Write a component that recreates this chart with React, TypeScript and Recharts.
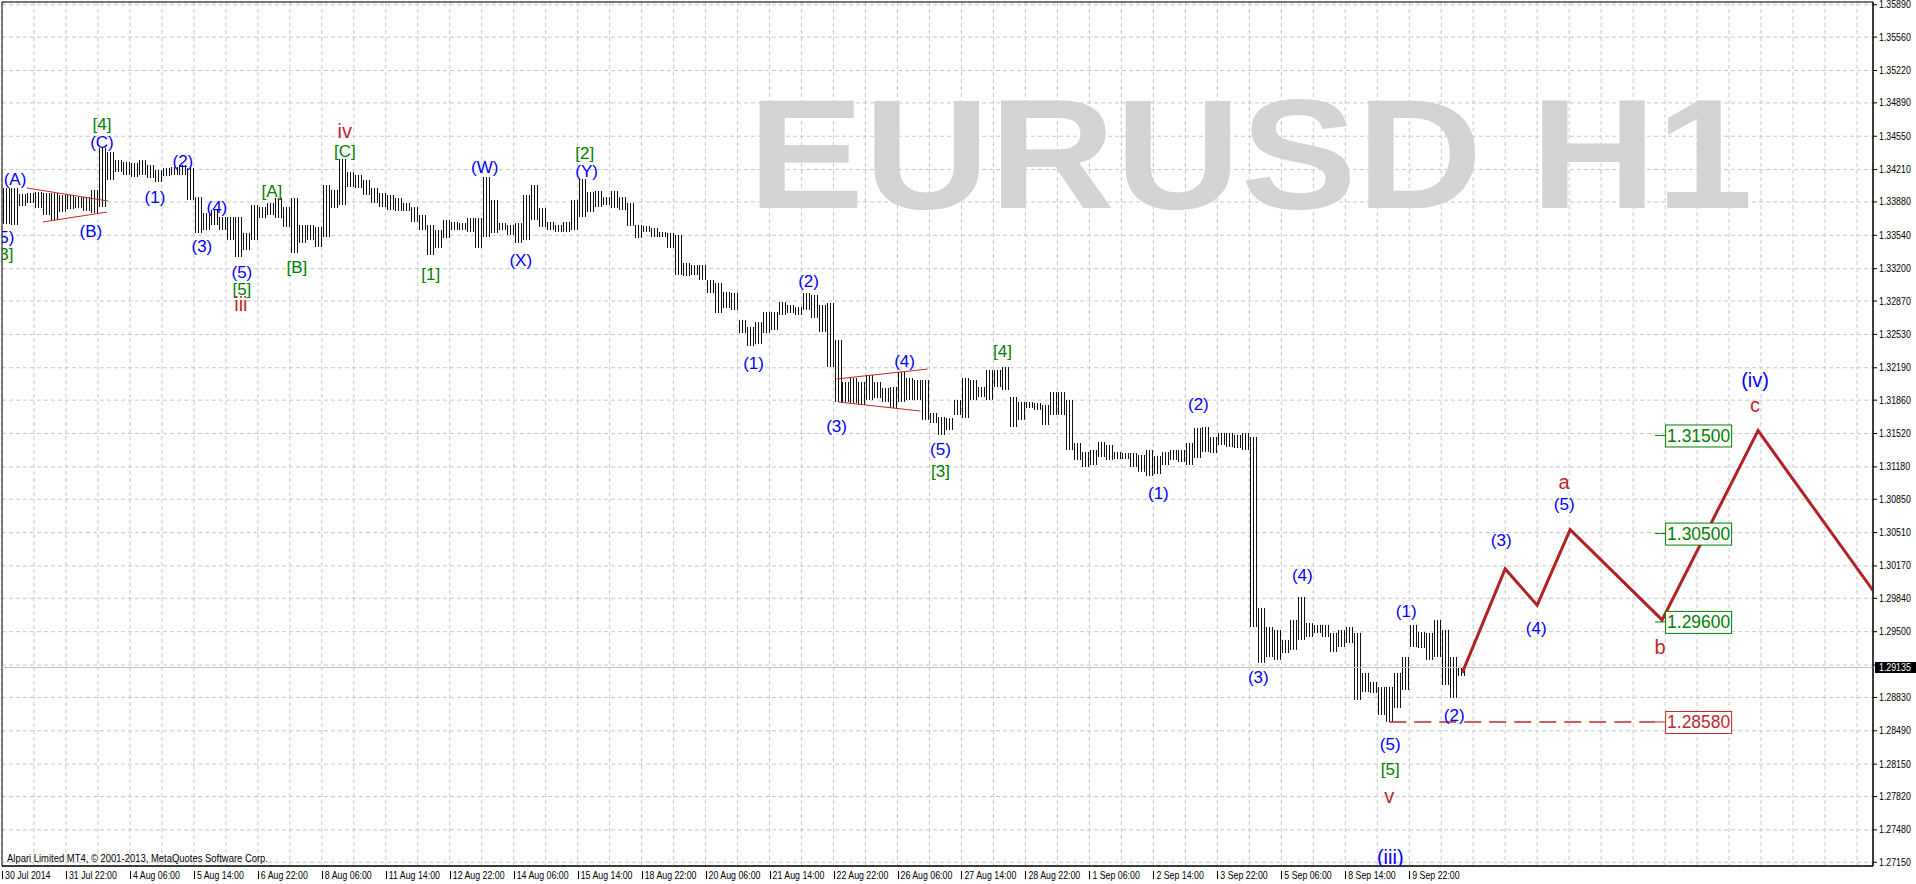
import React from "react";
import {
  ComposedChart,
  Bar,
  Line,
  Scatter,
  XAxis,
  YAxis,
  CartesianGrid,
  ReferenceLine,
  ReferenceArea,
} from "recharts";

const W = 1916;
const H = 884;

// time axis labels, one every 32 H1 bars
const timeLabels = [
  "30 Jul 2014", "31 Jul 22:00", "4 Aug 06:00", "5 Aug 14:00", "6 Aug 22:00",
  "8 Aug 06:00", "11 Aug 14:00", "12 Aug 22:00", "14 Aug 06:00", "15 Aug 14:00",
  "18 Aug 22:00", "20 Aug 06:00", "21 Aug 14:00", "22 Aug 22:00", "26 Aug 06:00",
  "27 Aug 14:00", "28 Aug 22:00", "1 Sep 06:00", "2 Sep 14:00", "3 Sep 22:00",
  "5 Sep 06:00", "8 Sep 14:00", "9 Sep 22:00",
];

const priceTicks = [
  1.3589, 1.3556, 1.3522, 1.3489, 1.3455, 1.3421, 1.3388, 1.3354, 1.332,
  1.3287, 1.3253, 1.3219, 1.3186, 1.3152, 1.3118, 1.3085, 1.3051, 1.3017,
  1.2984, 1.295, 1.2916, 1.2883, 1.2849, 1.2815, 1.2782, 1.2748, 1.2715,
];

const currentPrice = 1.29135;

// price bars, each entry = 4 H1 bars (high / low)
const highs = [
  1.34022, 1.34022, 1.33961, 1.33971, 1.33981, 1.33971, 1.33971, 1.33951, 1.33951, 1.3393,
  1.3393, 1.34002, 1.3443, 1.34389, 1.34307, 1.34287, 1.34277, 1.34307, 1.34257, 1.34206,
  1.34226, 1.34236, 1.34257, 1.34226, 1.3393, 1.33767, 1.33798, 1.33727, 1.33727, 1.33727,
  1.33564, 1.33849, 1.33828, 1.33869, 1.3392, 1.33828, 1.3392, 1.33645, 1.33645, 1.33625,
  1.34053, 1.34002, 1.34318, 1.34185, 1.34155, 1.34104, 1.34022, 1.33971, 1.33951, 1.3392,
  1.33869, 1.33828, 1.33747, 1.33645, 1.33594, 1.33696, 1.33676, 1.33665, 1.33716, 1.33716,
  1.34134, 1.339, 1.33665, 1.33645, 1.33665, 1.33951, 1.34053, 1.33818, 1.33676, 1.33645,
  1.33676, 1.339, 1.34114, 1.33981, 1.33992, 1.3393, 1.33992, 1.3393, 1.33869, 1.33645,
  1.33635, 1.33614, 1.33574, 1.33564, 1.33543, 1.33258, 1.33237, 1.33237, 1.33085, 1.33054,
  1.32962, 1.32952, 1.32677, 1.32606, 1.32656, 1.32758, 1.32758, 1.3286, 1.3283, 1.32809,
  1.32952, 1.32932, 1.3283, 1.3285, 1.32473, 1.32045, 1.32086, 1.32045, 1.32116, 1.32045,
  1.31984, 1.31994, 1.32147, 1.32086, 1.32065, 1.32065, 1.31729, 1.31688, 1.31678, 1.31862,
  1.32086, 1.32065, 1.31994, 1.32167, 1.32167, 1.32198, 1.31892, 1.31841, 1.31841, 1.31831,
  1.31811, 1.31943, 1.31943, 1.31862, 1.31423, 1.31332, 1.31352, 1.31434, 1.31403, 1.31332,
  1.31321, 1.31321, 1.31301, 1.31352, 1.31291, 1.31332, 1.31352, 1.31352, 1.31423, 1.31576,
  1.31586, 1.31485, 1.31525, 1.31525, 1.31505, 1.31525, 1.31485, 1.29742, 1.29548, 1.29518,
  1.29416, 1.2962, 1.29854, 1.29589, 1.29569, 1.29569, 1.29487, 1.29518, 1.29548, 1.29487,
  1.2908, 1.28988, 1.28937, 1.28937, 1.2908, 1.29242, 1.29569, 1.29497, 1.29487, 1.2962,
  1.29518, 1.29242, 1.29141,
];

const lows = [
  1.33655, 1.33645, 1.33839, 1.33869, 1.33818, 1.33747, 1.33696, 1.33778, 1.33808, 1.33818,
  1.33788, 1.33767, 1.33828, 1.34104, 1.34185, 1.34155, 1.34134, 1.34155, 1.34124, 1.34083,
  1.34144, 1.34155, 1.34155, 1.339, 1.33564, 1.33594, 1.33645, 1.33594, 1.33492, 1.33319,
  1.3339, 1.33492, 1.33716, 1.33747, 1.33716, 1.33625, 1.3336, 1.33462, 1.33492, 1.33421,
  1.33523, 1.33818, 1.33849, 1.34032, 1.34022, 1.33951, 1.33869, 1.33828, 1.33798, 1.33788,
  1.33788, 1.33676, 1.33594, 1.33339, 1.33411, 1.33513, 1.33594, 1.33594, 1.33574, 1.33411,
  1.33523, 1.33564, 1.33594, 1.33543, 1.33462, 1.33492, 1.33696, 1.33625, 1.33594, 1.33574,
  1.33574, 1.33594, 1.33727, 1.33778, 1.33828, 1.33849, 1.33818, 1.33798, 1.33635, 1.33513,
  1.33574, 1.33523, 1.33523, 1.33411, 1.33135, 1.33125, 1.33135, 1.33085, 1.32952, 1.32748,
  1.32799, 1.32779, 1.32544, 1.32412, 1.32432, 1.32544, 1.32575, 1.32728, 1.32748, 1.32728,
  1.32779, 1.32697, 1.32555, 1.32198, 1.31841, 1.31841, 1.31831, 1.31811, 1.31862, 1.31882,
  1.31841, 1.3178, 1.31841, 1.31862, 1.31862, 1.31658, 1.31627, 1.31505, 1.31556, 1.31709,
  1.31678, 1.31862, 1.31892, 1.31862, 1.31994, 1.31963, 1.31586, 1.31658, 1.3178, 1.3176,
  1.31607, 1.31709, 1.31709, 1.31352, 1.3125, 1.31179, 1.31199, 1.31281, 1.3125, 1.3126,
  1.3126, 1.31179, 1.31128, 1.31087, 1.31107, 1.31199, 1.3125, 1.3123, 1.31199, 1.3127,
  1.31332, 1.31321, 1.31403, 1.31383, 1.31372, 1.31352, 1.29548, 1.29182, 1.29242, 1.29212,
  1.29283, 1.29314, 1.29416, 1.29446, 1.29487, 1.29446, 1.29293, 1.29344, 1.29385, 1.28804,
  1.28886, 1.28876, 1.28652, 1.2858, 1.28723, 1.28906, 1.29344, 1.29334, 1.29212, 1.29242,
  1.28957, 1.28825, 1.29049,
];

// forecast zigzag (bar index, price)
const forecastT = [730.5, 752, 768, 784.5, 830.5, 878.5, 936];
const forecastP = [1.2908, 1.3014, 1.2977, 1.3054, 1.2962, 1.3155, 1.2992];

// price level boxes
const levelPrices = [1.315, 1.305, 1.296, 1.2858];
const levelKinds = ["green", "green", "green", "red"];
const levelT = 827;

// wave labels: [bar index, price, text, kind]
const waveLabels: [number, number, string, string][] = [
  [1, 1.33513, "(5)", "blue"],
  [1, 1.33339, "[3]", "green"],
  [6.5, 1.34104, "(A)", "blue"],
  [50, 1.34664, "[4]", "green"],
  [50, 1.34481, "(C)", "blue"],
  [44.5, 1.33574, "(B)", "blue"],
  [76.5, 1.3392, "(1)", "blue"],
  [90.5, 1.34287, "(2)", "blue"],
  [100, 1.33421, "(3)", "blue"],
  [107.5, 1.33818, "(4)", "blue"],
  [120, 1.33156, "(5)", "blue"],
  [120, 1.32983, "[5]", "green"],
  [119.5, 1.3283, "iii", "red"],
  [135, 1.33981, "[A]", "green"],
  [147.5, 1.33207, "[B]", "green"],
  [171.5, 1.34593, "iv", "red"],
  [171.5, 1.34389, "[C]", "green"],
  [214.5, 1.33135, "[1]", "green"],
  [241.5, 1.34226, "(W)", "blue"],
  [259.5, 1.33278, "(X)", "blue"],
  [291.5, 1.34369, "[2]", "green"],
  [292.5, 1.34185, "(Y)", "blue"],
  [376, 1.32228, "(1)", "blue"],
  [403.5, 1.33064, "(2)", "blue"],
  [417.5, 1.31586, "(3)", "blue"],
  [451.5, 1.32249, "(4)", "blue"],
  [469.5, 1.31352, "(5)", "blue"],
  [469.5, 1.31128, "[3]", "green"],
  [500.5, 1.32351, "[4]", "green"],
  [578.5, 1.30904, "(1)", "blue"],
  [598.5, 1.31811, "(2)", "blue"],
  [628.5, 1.29029, "(3)", "blue"],
  [650.5, 1.30068, "(4)", "blue"],
  [702.5, 1.29701, "(1)", "blue"],
  [726.5, 1.28641, "(2)", "blue"],
  [694.5, 1.28346, "(5)", "blue"],
  [694.5, 1.28091, "[5]", "green"],
  [694, 1.27816, "v", "red"],
  [694.5, 1.27194, "(iii)", "bigblue"],
  [750, 1.30425, "(3)", "blue"],
  [767.5, 1.29528, "(4)", "blue"],
  [781.5, 1.31016, "a", "red"],
  [781.5, 1.30791, "(5)", "blue"],
  [829.5, 1.29334, "b", "red"],
  [877, 1.32055, "(iv)", "bigblue"],
  [877, 1.318, "c", "red"],
];

// contracting triangle lines: [t1, p1, t2, p2]
const triangleLines = [
  [12.5, 1.34022, 53, 1.3389],
  [20.5, 1.33676, 52.5, 1.33777],
  [417.5, 1.32076, 463, 1.32177],
  [418.5, 1.31841, 459.5, 1.31749],
];

const stopT = [694, 827];
const stopPrice = 1.2858;

const Y_MIN = 1.27112;
const Y_MAX = 1.35918;
const T_MAX = 936;

const COLORS: Record<string, string> = {
  blue: "#0000ff",
  bigblue: "#0000ff",
  green: "#008000",
  red: "#c0282a",
};
const SIZES: Record<string, number> = { blue: 17, bigblue: 20, green: 17, red: 20 };
const FONT = "'Liberation Sans', Arial, sans-serif";

const bars = highs.map((h, i) => ({ t: i * 4 + 2, range: [lows[i], h] }));
const forecast = forecastT.map((t, i) => ({ t, p: forecastP[i] }));
const labels = waveLabels.map(([t, p, text, kind]) => ({ t, p, text, kind }));
const levels = levelPrices.map((p, i) => ({ t: levelT, p, kind: levelKinds[i] }));
const xTicks = Array.from({ length: Math.floor(T_MAX / 16) + 1 }, (_, k) => k * 16);

// each entry stands for 4 hourly bars: draw it as a few thin strokes
const BarShape = (props: any) => {
  const { x, y, width, height } = props;
  if (x == null || y == null) return null;
  const top = Math.min(y, y + height);
  const h = Math.max(Math.abs(height), 1);
  const mid = Math.round(x + width / 2);
  const offs = [-3, 0, 3];
  return (
    <g>
      {offs.map((o) => (
        <line key={o} x1={mid + o + 0.5} x2={mid + o + 0.5} y1={top} y2={top + h} stroke="#111" strokeWidth={1} />
      ))}
    </g>
  );
};

const LabelShape = (props: any) => {
  const { cx, cy, payload } = props;
  const size = SIZES[payload.kind];
  return (
    <text
      x={cx}
      y={cy + size * 0.3}
      textAnchor="middle"
      fontSize={size}
      fontFamily={FONT}
      fill={COLORS[payload.kind]}
    >
      {payload.text}
    </text>
  );
};

const LevelShape = (props: any) => {
  const { cx, cy, payload } = props;
  const color = payload.kind === "red" ? "#c0282a" : "#008000";
  return (
    <g>
      <line x1={cx} x2={cx + 10} y1={cy} y2={cy} stroke={color} strokeWidth={1} />
      <rect x={cx + 10.5} y={cy - 10.5} width={66} height={22} fill="#fff" stroke={color} strokeWidth={1} />
      <text x={cx + 12} y={cy + 6.5} fontSize={18.5} fontFamily={FONT} fill={color} textLength={63} lengthAdjust="spacingAndGlyphs">
        {payload.p.toFixed(5)}
      </text>
    </g>
  );
};

const PriceTick = (props: any) => {
  const { x, y, payload } = props;
  const v = payload.value as number;
  if (Math.abs(v - currentPrice) < 0.0005) return null;
  return (
    <text transform={`translate(${x},${y + 3.5}) scale(0.88,1)`} fontSize={10} fontFamily={FONT} fill="#000">
      {v.toFixed(5)}
    </text>
  );
};

const TimeTick = (props: any) => {
  const { x, y, payload } = props;
  const v = payload.value as number;
  if (v % 32 !== 0) return null;
  const label = timeLabels[v / 32];
  if (!label) return null;
  const lx = Math.round(x) + 0.5;
  return (
    <g>
      <line x1={lx} x2={lx} y1={y + 1} y2={y + 9} stroke="#000" strokeWidth={1} />
      <text transform={`translate(${x + 3},${y + 8.5}) scale(0.88,1)`} fontSize={10} fontFamily={FONT} fill="#000">
        {label}
      </text>
    </g>
  );
};

const PriceTag = (props: any) => {
  const vb = props.viewBox;
  if (!vb) return null;
  const x0 = vb.x + vb.width + 2;
  return (
    <g>
      <rect x={x0} y={vb.y - 5.5} width={42} height={11} fill="#000" />
      <text transform={`translate(${x0 + 4},${vb.y + 3.5}) scale(0.88,1)`} fontSize={10} fontFamily={FONT} fill="#fff">
        {currentPrice.toFixed(5)}
      </text>
    </g>
  );
};

export default function App() {
  return (
    <div style={{ position: "fixed", left: 0, top: 0, width: W, height: H, background: "#fff", overflow: "hidden" }}>
      <ComposedChart width={W} height={H} data={bars} margin={{ top: 2, right: 0, bottom: 0, left: 2 }}>
        <CartesianGrid stroke="#c8c8c8" strokeDasharray="4 3" />
        <XAxis
          dataKey="t"
          type="number"
          domain={[0, T_MAX]}
          ticks={xTicks}
          allowDataOverflow
          height={18}
          tickSize={0}
          tickMargin={4}
          tickLine={false}
          axisLine={{ stroke: "#000" }}
          tick={<TimeTick />}
          interval={0}
        />
        <YAxis
          orientation="right"
          type="number"
          domain={[Y_MIN, Y_MAX]}
          ticks={priceTicks}
          allowDataOverflow
          width={43}
          tickSize={4}
          tickMargin={2}
          tickLine={{ stroke: "#000" }}
          axisLine={{ stroke: "#000" }}
          tick={<PriceTick />}
          interval={0}
        />
        <ReferenceArea x1={0} x2={T_MAX} y1={Y_MIN} y2={Y_MAX} fill="none" fillOpacity={0} stroke="#000" strokeWidth={1} />
        <ReferenceLine y={currentPrice} stroke="#c0c0c0" strokeWidth={1} label={<PriceTag />} />
        {triangleLines.map((s, i) => (
          <ReferenceLine
            key={i}
            segment={[{ x: s[0], y: s[1] }, { x: s[2], y: s[3] }]}
            stroke="#c0282a"
            strokeWidth={1}
            ifOverflow="visible"
          />
        ))}
        <ReferenceLine
          segment={[{ x: stopT[0], y: stopPrice }, { x: stopT[1], y: stopPrice }]}
          stroke="#c0282a"
          strokeWidth={1.5}
          strokeDasharray="17 8"
          ifOverflow="visible"
        />
        <Bar dataKey="range" barSize={8} shape={<BarShape />} isAnimationActive={false} />
        <Line
          data={forecast}
          dataKey="p"
          type="linear"
          stroke="#b22222"
          strokeWidth={3}
          dot={false}
          activeDot={false}
          isAnimationActive={false}
        />
        <Scatter data={levels} dataKey="p" shape={<LevelShape />} isAnimationActive={false} />
        <Scatter data={labels} dataKey="p" shape={<LabelShape />} isAnimationActive={false} />
      </ComposedChart>
      <svg width={W} height={H} style={{ position: "absolute", left: 0, top: 0, pointerEvents: "none" }}>
        <text
          x={748}
          y={208}
          fontSize={155}
          fontWeight="bold"
          fontFamily={FONT}
          fill="#d3d3d3"
          textLength={1005}
          lengthAdjust="spacingAndGlyphs"
        >
          EURUSD H1
        </text>
        <text x={7} y={862} fontSize={11} fontFamily={FONT} fill="#000" textLength={261} lengthAdjust="spacingAndGlyphs">
          Alpari Limited MT4, © 2001-2013, MetaQuotes Software Corp.
        </text>
      </svg>
    </div>
  );
}
